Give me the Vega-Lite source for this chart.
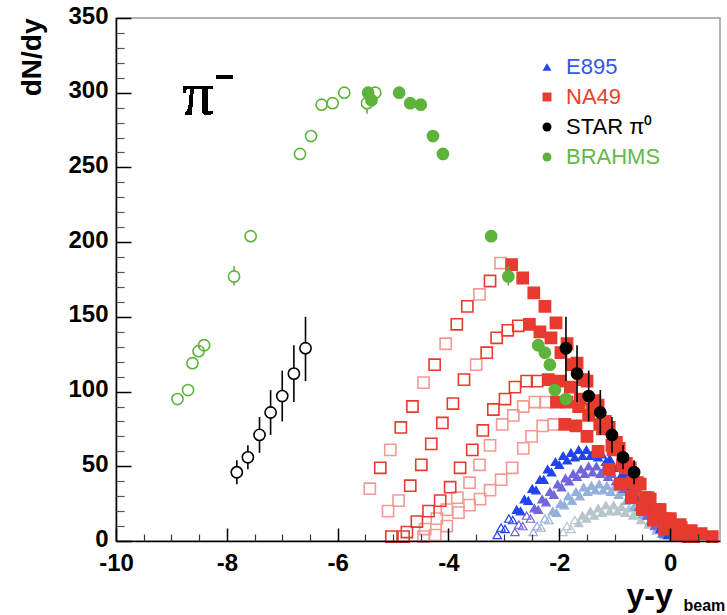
{
  "$schema": "https://vega.github.io/schema/vega-lite/v6.json",
  "width": 604,
  "height": 523,
  "autosize": {"type": "none"},
  "padding": {"left": 116, "top": 18, "right": 7, "bottom": 74},
  "background": "white",
  "config": {
    "view": {"stroke": "#9a9a9a", "strokeWidth": 1.5},
    "font": "Liberation Sans"
  },
  "datasets": {
    "pts": [
      {"set": "E895 set 4", "kind": "reflected", "x": -1.93, "y": 6},
      {"set": "E895 set 4", "kind": "reflected", "x": -1.86, "y": 10},
      {"set": "E895 set 4", "kind": "reflected", "x": -1.79, "y": 8},
      {"set": "E895 set 4", "kind": "reflected", "x": -1.72, "y": 14},
      {"set": "E895 set 4", "kind": "measured", "x": -1.65, "y": 12},
      {"set": "E895 set 4", "kind": "measured", "x": -1.58, "y": 17},
      {"set": "E895 set 4", "kind": "measured", "x": -1.51, "y": 15},
      {"set": "E895 set 4", "kind": "measured", "x": -1.44, "y": 20},
      {"set": "E895 set 4", "kind": "measured", "x": -1.37, "y": 17},
      {"set": "E895 set 4", "kind": "measured", "x": -1.30, "y": 22},
      {"set": "E895 set 4", "kind": "measured", "x": -1.23, "y": 19},
      {"set": "E895 set 4", "kind": "measured", "x": -1.16, "y": 24},
      {"set": "E895 set 4", "kind": "measured", "x": -1.09, "y": 20},
      {"set": "E895 set 4", "kind": "measured", "x": -1.02, "y": 24},
      {"set": "E895 set 4", "kind": "measured", "x": -0.95, "y": 20},
      {"set": "E895 set 4", "kind": "measured", "x": -0.88, "y": 23},
      {"set": "E895 set 4", "kind": "measured", "x": -0.81, "y": 19},
      {"set": "E895 set 4", "kind": "measured", "x": -0.74, "y": 22},
      {"set": "E895 set 4", "kind": "measured", "x": -0.67, "y": 17},
      {"set": "E895 set 4", "kind": "measured", "x": -0.60, "y": 20},
      {"set": "E895 set 4", "kind": "measured", "x": -0.53, "y": 14},
      {"set": "E895 set 4", "kind": "measured", "x": -0.46, "y": 17},
      {"set": "E895 set 4", "kind": "measured", "x": -0.39, "y": 11},
      {"set": "E895 set 4", "kind": "measured", "x": -0.32, "y": 13},
      {"set": "E895 set 4", "kind": "measured", "x": -0.25, "y": 7},
      {"set": "E895 set 4", "kind": "measured", "x": -0.18, "y": 9},
      {"set": "E895 set 4", "kind": "measured", "x": -0.11, "y": 4},

      {"set": "E895 set 3", "kind": "reflected", "x": -2.47, "y": 6},
      {"set": "E895 set 3", "kind": "reflected", "x": -2.40, "y": 10},
      {"set": "E895 set 3", "kind": "reflected", "x": -2.33, "y": 9},
      {"set": "E895 set 3", "kind": "reflected", "x": -2.26, "y": 15},
      {"set": "E895 set 3", "kind": "reflected", "x": -2.19, "y": 14},
      {"set": "E895 set 3", "kind": "measured", "x": -2.12, "y": 20},
      {"set": "E895 set 3", "kind": "measured", "x": -2.05, "y": 19},
      {"set": "E895 set 3", "kind": "measured", "x": -1.98, "y": 25},
      {"set": "E895 set 3", "kind": "measured", "x": -1.91, "y": 24},
      {"set": "E895 set 3", "kind": "measured", "x": -1.84, "y": 30},
      {"set": "E895 set 3", "kind": "measured", "x": -1.77, "y": 27},
      {"set": "E895 set 3", "kind": "measured", "x": -1.70, "y": 33},
      {"set": "E895 set 3", "kind": "measured", "x": -1.63, "y": 30},
      {"set": "E895 set 3", "kind": "measured", "x": -1.56, "y": 36},
      {"set": "E895 set 3", "kind": "measured", "x": -1.49, "y": 33},
      {"set": "E895 set 3", "kind": "measured", "x": -1.42, "y": 37},
      {"set": "E895 set 3", "kind": "measured", "x": -1.35, "y": 34},
      {"set": "E895 set 3", "kind": "measured", "x": -1.28, "y": 38},
      {"set": "E895 set 3", "kind": "measured", "x": -1.21, "y": 34},
      {"set": "E895 set 3", "kind": "measured", "x": -1.14, "y": 37},
      {"set": "E895 set 3", "kind": "measured", "x": -1.07, "y": 33},
      {"set": "E895 set 3", "kind": "measured", "x": -1.00, "y": 36},
      {"set": "E895 set 3", "kind": "measured", "x": -0.93, "y": 31},
      {"set": "E895 set 3", "kind": "measured", "x": -0.86, "y": 33},
      {"set": "E895 set 3", "kind": "measured", "x": -0.79, "y": 27},
      {"set": "E895 set 3", "kind": "measured", "x": -0.72, "y": 29},
      {"set": "E895 set 3", "kind": "measured", "x": -0.65, "y": 23},
      {"set": "E895 set 3", "kind": "measured", "x": -0.58, "y": 25},
      {"set": "E895 set 3", "kind": "measured", "x": -0.51, "y": 18},
      {"set": "E895 set 3", "kind": "measured", "x": -0.44, "y": 20},
      {"set": "E895 set 3", "kind": "measured", "x": -0.37, "y": 13},
      {"set": "E895 set 3", "kind": "measured", "x": -0.30, "y": 15},
      {"set": "E895 set 3", "kind": "measured", "x": -0.23, "y": 8},
      {"set": "E895 set 3", "kind": "measured", "x": -0.16, "y": 10},
      {"set": "E895 set 3", "kind": "measured", "x": -0.09, "y": 4},

      {"set": "E895 set 2", "kind": "reflected", "x": -2.80, "y": 6},
      {"set": "E895 set 2", "kind": "reflected", "x": -2.73, "y": 11},
      {"set": "E895 set 2", "kind": "reflected", "x": -2.66, "y": 10},
      {"set": "E895 set 2", "kind": "reflected", "x": -2.59, "y": 17},
      {"set": "E895 set 2", "kind": "reflected", "x": -2.52, "y": 15},
      {"set": "E895 set 2", "kind": "measured", "x": -2.45, "y": 22},
      {"set": "E895 set 2", "kind": "measured", "x": -2.38, "y": 21},
      {"set": "E895 set 2", "kind": "measured", "x": -2.31, "y": 28},
      {"set": "E895 set 2", "kind": "measured", "x": -2.24, "y": 26},
      {"set": "E895 set 2", "kind": "measured", "x": -2.17, "y": 33},
      {"set": "E895 set 2", "kind": "measured", "x": -2.10, "y": 31},
      {"set": "E895 set 2", "kind": "measured", "x": -2.03, "y": 38},
      {"set": "E895 set 2", "kind": "measured", "x": -1.96, "y": 36},
      {"set": "E895 set 2", "kind": "measured", "x": -1.89, "y": 42},
      {"set": "E895 set 2", "kind": "measured", "x": -1.82, "y": 40},
      {"set": "E895 set 2", "kind": "measured", "x": -1.75, "y": 45},
      {"set": "E895 set 2", "kind": "measured", "x": -1.68, "y": 43},
      {"set": "E895 set 2", "kind": "measured", "x": -1.61, "y": 48},
      {"set": "E895 set 2", "kind": "measured", "x": -1.54, "y": 45},
      {"set": "E895 set 2", "kind": "measured", "x": -1.47, "y": 50},
      {"set": "E895 set 2", "kind": "measured", "x": -1.40, "y": 46},
      {"set": "E895 set 2", "kind": "measured", "x": -1.33, "y": 50},
      {"set": "E895 set 2", "kind": "measured", "x": -1.26, "y": 45},
      {"set": "E895 set 2", "kind": "measured", "x": -1.19, "y": 48},
      {"set": "E895 set 2", "kind": "measured", "x": -1.12, "y": 43},
      {"set": "E895 set 2", "kind": "measured", "x": -1.05, "y": 45},
      {"set": "E895 set 2", "kind": "measured", "x": -0.98, "y": 40},
      {"set": "E895 set 2", "kind": "measured", "x": -0.91, "y": 42},
      {"set": "E895 set 2", "kind": "measured", "x": -0.84, "y": 35},
      {"set": "E895 set 2", "kind": "measured", "x": -0.77, "y": 36},
      {"set": "E895 set 2", "kind": "measured", "x": -0.70, "y": 29},
      {"set": "E895 set 2", "kind": "measured", "x": -0.63, "y": 30},
      {"set": "E895 set 2", "kind": "measured", "x": -0.56, "y": 23},
      {"set": "E895 set 2", "kind": "measured", "x": -0.49, "y": 24},
      {"set": "E895 set 2", "kind": "measured", "x": -0.42, "y": 17},
      {"set": "E895 set 2", "kind": "measured", "x": -0.35, "y": 18},
      {"set": "E895 set 2", "kind": "measured", "x": -0.28, "y": 10},
      {"set": "E895 set 2", "kind": "measured", "x": -0.21, "y": 11},
      {"set": "E895 set 2", "kind": "measured", "x": -0.14, "y": 5},

      {"set": "E895", "kind": "reflected", "x": -3.12, "y": 4},
      {"set": "E895", "kind": "reflected", "x": -3.05, "y": 9},
      {"set": "E895", "kind": "reflected", "x": -2.98, "y": 8},
      {"set": "E895", "kind": "reflected", "x": -2.91, "y": 15},
      {"set": "E895", "kind": "reflected", "x": -2.84, "y": 14},
      {"set": "E895", "kind": "measured", "x": -2.77, "y": 21},
      {"set": "E895", "kind": "measured", "x": -2.70, "y": 20},
      {"set": "E895", "kind": "measured", "x": -2.63, "y": 28},
      {"set": "E895", "kind": "measured", "x": -2.56, "y": 27},
      {"set": "E895", "kind": "measured", "x": -2.49, "y": 35},
      {"set": "E895", "kind": "measured", "x": -2.42, "y": 34},
      {"set": "E895", "kind": "measured", "x": -2.35, "y": 41},
      {"set": "E895", "kind": "measured", "x": -2.28, "y": 41},
      {"set": "E895", "kind": "measured", "x": -2.21, "y": 48},
      {"set": "E895", "kind": "measured", "x": -2.14, "y": 46},
      {"set": "E895", "kind": "measured", "x": -2.07, "y": 53},
      {"set": "E895", "kind": "measured", "x": -2.00, "y": 51},
      {"set": "E895", "kind": "measured", "x": -1.93, "y": 57},
      {"set": "E895", "kind": "measured", "x": -1.86, "y": 54},
      {"set": "E895", "kind": "measured", "x": -1.79, "y": 59},
      {"set": "E895", "kind": "measured", "x": -1.72, "y": 56},
      {"set": "E895", "kind": "measured", "x": -1.65, "y": 61},
      {"set": "E895", "kind": "measured", "x": -1.58, "y": 57},
      {"set": "E895", "kind": "measured", "x": -1.51, "y": 61},
      {"set": "E895", "kind": "measured", "x": -1.44, "y": 57},
      {"set": "E895", "kind": "measured", "x": -1.37, "y": 60},
      {"set": "E895", "kind": "measured", "x": -1.30, "y": 56},
      {"set": "E895", "kind": "measured", "x": -1.23, "y": 58},
      {"set": "E895", "kind": "measured", "x": -1.16, "y": 53},
      {"set": "E895", "kind": "measured", "x": -1.09, "y": 55},
      {"set": "E895", "kind": "measured", "x": -1.02, "y": 49},
      {"set": "E895", "kind": "measured", "x": -0.95, "y": 50},
      {"set": "E895", "kind": "measured", "x": -0.88, "y": 44},
      {"set": "E895", "kind": "measured", "x": -0.81, "y": 45},
      {"set": "E895", "kind": "measured", "x": -0.74, "y": 37},
      {"set": "E895", "kind": "measured", "x": -0.67, "y": 37},
      {"set": "E895", "kind": "measured", "x": -0.60, "y": 29},
      {"set": "E895", "kind": "measured", "x": -0.53, "y": 29},
      {"set": "E895", "kind": "measured", "x": -0.46, "y": 21},
      {"set": "E895", "kind": "measured", "x": -0.39, "y": 22},
      {"set": "E895", "kind": "measured", "x": -0.32, "y": 14},
      {"set": "E895", "kind": "measured", "x": -0.25, "y": 15},
      {"set": "E895", "kind": "measured", "x": -0.18, "y": 8},
      {"set": "E895", "kind": "measured", "x": -0.11, "y": 10},
      {"set": "E895", "kind": "measured", "x": -0.04, "y": 4},

      {"set": "NA49 set 2", "kind": "reflected", "x": -3.06, "y": 186},
      {"set": "NA49 set 2", "kind": "reflected", "x": -3.44, "y": 165},
      {"set": "NA49 set 2", "kind": "reflected", "x": -4.05, "y": 132},
      {"set": "NA49 set 2", "kind": "reflected", "x": -4.45, "y": 106},
      {"set": "NA49 set 2", "kind": "reflected", "x": -5.05, "y": 61},
      {"set": "NA49 set 2", "kind": "reflected", "x": -5.42, "y": 35},
      {"set": "NA49 set 2", "kind": "reflected", "x": -4.90, "y": 27},
      {"set": "NA49 set 2", "kind": "reflected", "x": -5.09, "y": 20},
      {"set": "NA49 set 2", "kind": "reflected", "x": -3.50, "y": 118},
      {"set": "NA49 set 2", "kind": "reflected", "x": -2.25, "y": 93},
      {"set": "NA49 set 2", "kind": "reflected", "x": -2.44, "y": 93},
      {"set": "NA49 set 2", "kind": "reflected", "x": -2.65, "y": 90},
      {"set": "NA49 set 2", "kind": "reflected", "x": -2.83, "y": 84},
      {"set": "NA49 set 2", "kind": "reflected", "x": -3.03, "y": 78},
      {"set": "NA49 set 2", "kind": "reflected", "x": -3.25, "y": 64},
      {"set": "NA49 set 2", "kind": "reflected", "x": -3.44, "y": 51},
      {"set": "NA49 set 2", "kind": "reflected", "x": -3.62, "y": 39},
      {"set": "NA49 set 2", "kind": "reflected", "x": -3.84, "y": 29},
      {"set": "NA49 set 2", "kind": "reflected", "x": -4.03, "y": 21},
      {"set": "NA49 set 2", "kind": "reflected", "x": -4.21, "y": 15},
      {"set": "NA49 set 2", "kind": "reflected", "x": -4.42, "y": 8},
      {"set": "NA49 set 2", "kind": "reflected", "x": -4.45, "y": 3},
      {"set": "NA49 set 2", "kind": "reflected", "x": -2.10, "y": 78},
      {"set": "NA49 set 2", "kind": "reflected", "x": -2.30, "y": 77},
      {"set": "NA49 set 2", "kind": "reflected", "x": -2.50, "y": 70},
      {"set": "NA49 set 2", "kind": "reflected", "x": -2.65, "y": 62},
      {"set": "NA49 set 2", "kind": "reflected", "x": -2.85, "y": 49},
      {"set": "NA49 set 2", "kind": "reflected", "x": -3.05, "y": 41},
      {"set": "NA49 set 2", "kind": "reflected", "x": -3.25, "y": 34},
      {"set": "NA49 set 2", "kind": "reflected", "x": -3.43, "y": 28},
      {"set": "NA49 set 2", "kind": "reflected", "x": -3.62, "y": 24},
      {"set": "NA49 set 2", "kind": "reflected", "x": -3.82, "y": 19},
      {"set": "NA49 set 2", "kind": "reflected", "x": -4.03, "y": 10},
      {"set": "NA49 set 2", "kind": "reflected", "x": -4.24, "y": 4},

      {"set": "NA49", "kind": "reflected", "x": -3.25, "y": 174},
      {"set": "NA49", "kind": "reflected", "x": -3.66, "y": 157},
      {"set": "NA49", "kind": "reflected", "x": -3.85, "y": 145},
      {"set": "NA49", "kind": "reflected", "x": -4.25, "y": 118},
      {"set": "NA49", "kind": "reflected", "x": -4.65, "y": 90},
      {"set": "NA49", "kind": "reflected", "x": -4.86, "y": 76},
      {"set": "NA49", "kind": "reflected", "x": -5.23, "y": 49},
      {"set": "NA49", "kind": "reflected", "x": -2.74, "y": 144},
      {"set": "NA49", "kind": "reflected", "x": -2.93, "y": 141},
      {"set": "NA49", "kind": "reflected", "x": -3.13, "y": 136},
      {"set": "NA49", "kind": "reflected", "x": -3.31, "y": 126},
      {"set": "NA49", "kind": "reflected", "x": -3.72, "y": 108},
      {"set": "NA49", "kind": "reflected", "x": -3.92, "y": 92},
      {"set": "NA49", "kind": "reflected", "x": -4.11, "y": 79},
      {"set": "NA49", "kind": "reflected", "x": -4.31, "y": 65},
      {"set": "NA49", "kind": "reflected", "x": -4.49, "y": 51},
      {"set": "NA49", "kind": "reflected", "x": -4.69, "y": 37},
      {"set": "NA49", "kind": "reflected", "x": -2.40, "y": 107},
      {"set": "NA49", "kind": "reflected", "x": -2.59, "y": 107},
      {"set": "NA49", "kind": "reflected", "x": -2.80, "y": 103},
      {"set": "NA49", "kind": "reflected", "x": -2.98, "y": 95},
      {"set": "NA49", "kind": "reflected", "x": -3.19, "y": 88},
      {"set": "NA49", "kind": "reflected", "x": -3.38, "y": 74},
      {"set": "NA49", "kind": "reflected", "x": -3.57, "y": 61},
      {"set": "NA49", "kind": "reflected", "x": -3.79, "y": 49},
      {"set": "NA49", "kind": "reflected", "x": -3.97, "y": 36},
      {"set": "NA49", "kind": "reflected", "x": -4.15, "y": 27},
      {"set": "NA49", "kind": "reflected", "x": -4.36, "y": 20},
      {"set": "NA49", "kind": "reflected", "x": -4.57, "y": 13},
      {"set": "NA49", "kind": "reflected", "x": -4.75, "y": 6},
      {"set": "NA49", "kind": "reflected", "x": -4.81, "y": 3},
      {"set": "NA49", "kind": "reflected", "x": -5.03, "y": 3},

      {"set": "NA49", "kind": "measured", "x": -1.90, "y": 78},
      {"set": "NA49", "kind": "measured", "x": -1.70, "y": 77},
      {"set": "NA49", "kind": "measured", "x": -1.50, "y": 70},
      {"set": "NA49", "kind": "measured", "x": -1.30, "y": 60},
      {"set": "NA49", "kind": "measured", "x": -1.10, "y": 48},
      {"set": "NA49", "kind": "measured", "x": -0.90, "y": 38},
      {"set": "NA49", "kind": "measured", "x": -0.70, "y": 29},
      {"set": "NA49", "kind": "measured", "x": -0.50, "y": 21},
      {"set": "NA49", "kind": "measured", "x": -0.30, "y": 14},
      {"set": "NA49", "kind": "measured", "x": -0.10, "y": 8},
      {"set": "NA49", "kind": "measured", "x": 0.10, "y": 4},
      {"set": "NA49", "kind": "measured", "x": -2.05, "y": 93},
      {"set": "NA49", "kind": "measured", "x": -1.86, "y": 93},
      {"set": "NA49", "kind": "measured", "x": -1.65, "y": 90},
      {"set": "NA49", "kind": "measured", "x": -1.47, "y": 84},
      {"set": "NA49", "kind": "measured", "x": -1.27, "y": 78},
      {"set": "NA49", "kind": "measured", "x": -1.05, "y": 64},
      {"set": "NA49", "kind": "measured", "x": -0.86, "y": 51},
      {"set": "NA49", "kind": "measured", "x": -0.68, "y": 39},
      {"set": "NA49", "kind": "measured", "x": -0.46, "y": 29},
      {"set": "NA49", "kind": "measured", "x": -0.27, "y": 21},
      {"set": "NA49", "kind": "measured", "x": -0.09, "y": 15},
      {"set": "NA49", "kind": "measured", "x": 0.12, "y": 8},
      {"set": "NA49", "kind": "measured", "x": 0.32, "y": 3},
      {"set": "NA49", "kind": "measured", "x": -2.20, "y": 108},
      {"set": "NA49", "kind": "measured", "x": -1.99, "y": 107},
      {"set": "NA49", "kind": "measured", "x": -1.80, "y": 103},
      {"set": "NA49", "kind": "measured", "x": -1.62, "y": 95},
      {"set": "NA49", "kind": "measured", "x": -1.41, "y": 88},
      {"set": "NA49", "kind": "measured", "x": -1.22, "y": 75},
      {"set": "NA49", "kind": "measured", "x": -1.03, "y": 61},
      {"set": "NA49", "kind": "measured", "x": -0.81, "y": 49},
      {"set": "NA49", "kind": "measured", "x": -0.63, "y": 36},
      {"set": "NA49", "kind": "measured", "x": -0.45, "y": 27},
      {"set": "NA49", "kind": "measured", "x": -0.24, "y": 20},
      {"set": "NA49", "kind": "measured", "x": -0.03, "y": 13},
      {"set": "NA49", "kind": "measured", "x": 0.15, "y": 6},
      {"set": "NA49", "kind": "measured", "x": 0.42, "y": 3},
      {"set": "NA49", "kind": "measured", "x": -2.54, "y": 145},
      {"set": "NA49", "kind": "measured", "x": -2.35, "y": 140},
      {"set": "NA49", "kind": "measured", "x": -2.15, "y": 136},
      {"set": "NA49", "kind": "measured", "x": -1.97, "y": 126},
      {"set": "NA49", "kind": "measured", "x": -1.78, "y": 118},
      {"set": "NA49", "kind": "measured", "x": -1.56, "y": 108},
      {"set": "NA49", "kind": "measured", "x": -1.36, "y": 94},
      {"set": "NA49", "kind": "measured", "x": -1.17, "y": 80},
      {"set": "NA49", "kind": "measured", "x": -0.97, "y": 66},
      {"set": "NA49", "kind": "measured", "x": -0.79, "y": 52},
      {"set": "NA49", "kind": "measured", "x": -0.59, "y": 39},
      {"set": "NA49", "kind": "measured", "x": -0.40, "y": 29},
      {"set": "NA49", "kind": "measured", "x": -0.20, "y": 21},
      {"set": "NA49", "kind": "measured", "x": 0.00, "y": 14},
      {"set": "NA49", "kind": "measured", "x": 0.20, "y": 9},
      {"set": "NA49", "kind": "measured", "x": -2.86, "y": 185},
      {"set": "NA49", "kind": "measured", "x": -2.66, "y": 176},
      {"set": "NA49", "kind": "measured", "x": -2.46, "y": 166},
      {"set": "NA49", "kind": "measured", "x": -2.26, "y": 157},
      {"set": "NA49", "kind": "measured", "x": -2.06, "y": 146},
      {"set": "NA49", "kind": "measured", "x": -1.86, "y": 132},
      {"set": "NA49", "kind": "measured", "x": -1.68, "y": 119},
      {"set": "NA49", "kind": "measured", "x": -1.50, "y": 107},
      {"set": "NA49", "kind": "measured", "x": -1.30, "y": 91},
      {"set": "NA49", "kind": "measured", "x": -1.10, "y": 76},
      {"set": "NA49", "kind": "measured", "x": -0.92, "y": 62},
      {"set": "NA49", "kind": "measured", "x": -0.72, "y": 49},
      {"set": "NA49", "kind": "measured", "x": -0.54, "y": 38},
      {"set": "NA49", "kind": "measured", "x": -0.36, "y": 28},
      {"set": "NA49", "kind": "measured", "x": -0.18, "y": 21},
      {"set": "NA49", "kind": "measured", "x": 0.00, "y": 15},
      {"set": "NA49", "kind": "measured", "x": 0.18, "y": 11},
      {"set": "NA49", "kind": "measured", "x": 0.38, "y": 7},
      {"set": "NA49", "kind": "measured", "x": 0.56, "y": 5},
      {"set": "NA49", "kind": "measured", "x": 0.76, "y": 3},

      {"set": "BRAHMS", "kind": "reflected", "x": -8.89, "y": 95},
      {"set": "BRAHMS", "kind": "reflected", "x": -8.70, "y": 101},
      {"set": "BRAHMS", "kind": "reflected", "x": -8.62, "y": 119},
      {"set": "BRAHMS", "kind": "reflected", "x": -8.51, "y": 127},
      {"set": "BRAHMS", "kind": "reflected", "x": -8.41, "y": 131},
      {"set": "BRAHMS", "kind": "reflected", "x": -7.87, "y": 177, "lo": 171, "hi": 184},
      {"set": "BRAHMS", "kind": "reflected", "x": -7.57, "y": 204},
      {"set": "BRAHMS", "kind": "reflected", "x": -6.68, "y": 259},
      {"set": "BRAHMS", "kind": "reflected", "x": -6.48, "y": 271},
      {"set": "BRAHMS", "kind": "reflected", "x": -6.29, "y": 292},
      {"set": "BRAHMS", "kind": "reflected", "x": -6.09, "y": 293},
      {"set": "BRAHMS", "kind": "reflected", "x": -5.88, "y": 300},
      {"set": "BRAHMS", "kind": "reflected", "x": -5.47, "y": 293, "lo": 286, "hi": 300},
      {"set": "BRAHMS", "kind": "reflected", "x": -5.32, "y": 300},
      {"set": "BRAHMS", "kind": "measured", "x": -5.45, "y": 300},
      {"set": "BRAHMS", "kind": "measured", "x": -5.39, "y": 295},
      {"set": "BRAHMS", "kind": "measured", "x": -4.89, "y": 300},
      {"set": "BRAHMS", "kind": "measured", "x": -4.69, "y": 293},
      {"set": "BRAHMS", "kind": "measured", "x": -4.50, "y": 292},
      {"set": "BRAHMS", "kind": "measured", "x": -4.28, "y": 271},
      {"set": "BRAHMS", "kind": "measured", "x": -4.10, "y": 259},
      {"set": "BRAHMS", "kind": "measured", "x": -3.23, "y": 204},
      {"set": "BRAHMS", "kind": "measured", "x": -2.92, "y": 177, "lo": 171, "hi": 184},
      {"set": "BRAHMS", "kind": "measured", "x": -2.38, "y": 131},
      {"set": "BRAHMS", "kind": "measured", "x": -2.26, "y": 126},
      {"set": "BRAHMS", "kind": "measured", "x": -2.17, "y": 118},
      {"set": "BRAHMS", "kind": "measured", "x": -2.08, "y": 101},
      {"set": "BRAHMS", "kind": "measured", "x": -1.88, "y": 95},

      {"set": "STAR π⁰", "kind": "reflected", "x": -6.58, "y": 129, "lo": 107, "hi": 150},
      {"set": "STAR π⁰", "kind": "reflected", "x": -6.79, "y": 112, "lo": 93, "hi": 131},
      {"set": "STAR π⁰", "kind": "reflected", "x": -7.00, "y": 97, "lo": 80, "hi": 114},
      {"set": "STAR π⁰", "kind": "reflected", "x": -7.21, "y": 86, "lo": 71, "hi": 101},
      {"set": "STAR π⁰", "kind": "reflected", "x": -7.41, "y": 71, "lo": 59, "hi": 83},
      {"set": "STAR π⁰", "kind": "reflected", "x": -7.62, "y": 56, "lo": 48, "hi": 64},
      {"set": "STAR π⁰", "kind": "reflected", "x": -7.82, "y": 46, "lo": 38, "hi": 54},
      {"set": "STAR π⁰", "kind": "measured", "x": -1.88, "y": 129, "lo": 107, "hi": 150},
      {"set": "STAR π⁰", "kind": "measured", "x": -1.68, "y": 112, "lo": 93, "hi": 131},
      {"set": "STAR π⁰", "kind": "measured", "x": -1.47, "y": 97, "lo": 80, "hi": 114},
      {"set": "STAR π⁰", "kind": "measured", "x": -1.26, "y": 86, "lo": 71, "hi": 101},
      {"set": "STAR π⁰", "kind": "measured", "x": -1.05, "y": 71, "lo": 59, "hi": 83},
      {"set": "STAR π⁰", "kind": "measured", "x": -0.85, "y": 56, "lo": 48, "hi": 64},
      {"set": "STAR π⁰", "kind": "measured", "x": -0.65, "y": 46, "lo": 38, "hi": 54}
    ]
  },
  "data": {"name": "pts"},
  "layer": [
    {
      "transform": [{"filter": "indexof(datum.set, 'E895') === 0"}],
      "mark": {"type": "point", "filled": true, "size": 72, "strokeWidth": 1.2, "opacity": 1},
      "encoding": {
        "x": {
          "field": "x", "type": "quantitative",
          "scale": {"domain": [-10, 0.9], "nice": false, "zero": false},
          "axis": {
            "orient": "bottom", "values": [-10, -8, -6, -4, -2, 0], "zindex": 1,
            "labelExpr": "'' + datum.value", "labelFlush": false,
            "grid": false, "tickSize": -13, "tickWidth": 1.5, "tickColor": "black",
            "domainColor": "black", "domainWidth": 1.5,
            "labelFont": "Liberation Sans", "labelFontWeight": "bold", "labelFontSize": 24,
            "labelColor": "black", "labelPadding": 23,
            "title": "y-y", "titleFont": "Liberation Sans", "titleFontWeight": "bold",
            "titleFontSize": 32, "titleColor": "black",
            "titleX": 510, "titleY": 64, "titleAlign": "left", "titleBaseline": "alphabetic"
          }
        },
        "y": {
          "field": "y", "type": "quantitative",
          "scale": {"domain": [0, 350], "nice": false, "zero": false},
          "axis": {
            "orient": "left", "values": [0, 50, 100, 150, 200, 250, 300, 350], "zindex": 1,
            "labelFlush": false, "labelOffset": -2,
            "grid": false, "tickSize": -15, "tickWidth": 1.5, "tickColor": "black",
            "domainColor": "black", "domainWidth": 1.5,
            "labelFont": "Liberation Sans", "labelFontWeight": "bold", "labelFontSize": 24,
            "labelColor": "black", "labelPadding": 23,
            "title": "dN/dy", "titleFont": "Liberation Sans", "titleFontWeight": "bold",
            "titleFontSize": 28, "titleColor": "black",
            "titleX": -76, "titleY": 0, "titleAngle": -90,
            "titleAlign": "right", "titleBaseline": "alphabetic"
          }
        },
        "color": {
          "field": "set", "type": "nominal",
          "scale": {
            "domain": ["E895", "E895 set 2", "E895 set 3", "E895 set 4", "NA49", "NA49 set 2", "STAR π⁰", "BRAHMS"],
            "range": ["#2244ee", "#7266dd", "#94b0dc", "#b8c6cc", "#e63b2e", "#f29a92", "#000000", "#5db33c"]
          },
          "legend": {
            "values": ["E895", "NA49", "STAR π⁰", "BRAHMS"],
            "orient": "none", "legendX": 420, "legendY": 38,
            "title": null, "labelFont": "Liberation Sans", "labelFontSize": 22,
            "labelColor": {"expr": "datum.label === 'E895' ? '#3456ee' : datum.label === 'NA49' ? '#e8412f' : datum.label === 'BRAHMS' ? '#63b846' : '#000000'"},
            "symbolSize": 80, "symbolStrokeWidth": 0, "symbolOpacity": 1, "rowPadding": 8, "labelOffset": 8
          }
        },
        "shape": {
          "field": "set", "type": "nominal",
          "scale": {
            "domain": ["E895", "E895 set 2", "E895 set 3", "E895 set 4", "NA49", "NA49 set 2", "STAR π⁰", "BRAHMS"],
            "range": ["triangle-up", "triangle-up", "triangle-up", "triangle-up", "square", "square", "circle", "circle"]
          },
          "legend": {
            "values": ["E895", "NA49", "STAR π⁰", "BRAHMS"],
            "orient": "none", "legendX": 420, "legendY": 38,
            "title": null, "labelFont": "Liberation Sans", "labelFontSize": 22,
            "labelColor": {"expr": "datum.label === 'E895' ? '#3456ee' : datum.label === 'NA49' ? '#e8412f' : datum.label === 'BRAHMS' ? '#63b846' : '#000000'"},
            "symbolSize": 80, "symbolStrokeWidth": 0, "symbolOpacity": 1, "rowPadding": 8, "labelOffset": 8
          }
        },
        "stroke": {
          "field": "set", "type": "nominal",
          "scale": {
            "domain": ["E895", "E895 set 2", "E895 set 3", "E895 set 4", "NA49", "NA49 set 2", "STAR π⁰", "BRAHMS"],
            "range": ["#2244ee", "#7266dd", "#94b0dc", "#b8c6cc", "#e63b2e", "#f29a92", "#000000", "#5db33c"]
          },
          "legend": null
        },
        "fillOpacity": {
          "field": "kind", "type": "nominal",
          "scale": {"domain": ["measured", "reflected"], "range": [1, 0]},
          "legend": null
        }
      }
    },
    {
      "transform": [{"filter": "indexof(datum.set, 'NA49') === 0"}],
      "mark": {"type": "point", "filled": true, "size": 125, "strokeWidth": 1.6, "opacity": 1},
      "encoding": {
        "x": {"field": "x", "type": "quantitative", "axis": null},
        "y": {"field": "y", "type": "quantitative", "axis": null},
        "color": {"field": "set", "type": "nominal"},
        "shape": {"field": "set", "type": "nominal"},
        "stroke": {"field": "set", "type": "nominal", "legend": null},
        "fillOpacity": {"field": "kind", "type": "nominal", "legend": null}
      }
    },
    {
      "transform": [{"filter": "isValid(datum.lo)"}],
      "mark": {"type": "rule", "strokeWidth": 1.6},
      "encoding": {
        "x": {
          "field": "x", "type": "quantitative",
          "axis": {
            "orient": "bottom", "zindex": 1,
            "values": [-9.5, -9, -8.5, -7.5, -7, -6.5, -5.5, -5, -4.5, -3.5, -3, -2.5, -1.5, -1, -0.5, 0.5],
            "grid": false, "labels": false, "domain": false, "title": null,
            "tickSize": -7, "tickWidth": 1.2, "tickColor": "#333333"
          }
        },
        "y": {
          "field": "lo", "type": "quantitative",
          "axis": {
            "orient": "left", "zindex": 1,
            "values": [10, 20, 30, 40, 60, 70, 80, 90, 110, 120, 130, 140, 160, 170, 180, 190, 210, 220, 230, 240, 260, 270, 280, 290, 310, 320, 330, 340],
            "grid": false, "labels": false, "domain": false, "title": null,
            "tickSize": -8, "tickWidth": 1.2, "tickColor": "#555555"
          }
        },
        "y2": {"field": "hi"},
        "stroke": {"field": "set", "type": "nominal", "legend": null}
      }
    },
    {
      "transform": [{"filter": "datum.kind === 'reflected' && (datum.set === 'BRAHMS' || datum.set === 'STAR π⁰')"}],
      "mark": {"type": "point", "filled": true, "shape": "circle", "size": 110, "color": "white", "opacity": 1},
      "encoding": {
        "x": {
          "field": "x", "type": "quantitative",
          "axis": {
            "orient": "bottom", "grid": false, "labels": false, "ticks": false, "domain": false,
            "values": [],
            "title": "beam", "titleFont": "Liberation Sans", "titleFontWeight": "bold",
            "titleFontSize": 16, "titleColor": "black",
            "titleX": 567, "titleY": 69, "titleAlign": "left", "titleBaseline": "alphabetic"
          }
        },
        "y": {"field": "y", "type": "quantitative", "axis": null}
      }
    },
    {
      "transform": [{"filter": "datum.set === 'BRAHMS' || datum.set === 'STAR π⁰'"}],
      "mark": {"type": "point", "filled": true, "size": 125, "strokeWidth": 1.6, "opacity": 1},
      "encoding": {
        "x": {"field": "x", "type": "quantitative", "axis": null},
        "y": {"field": "y", "type": "quantitative", "axis": null},
        "color": {"field": "set", "type": "nominal"},
        "shape": {"field": "set", "type": "nominal"},
        "stroke": {"field": "set", "type": "nominal", "legend": null},
        "fillOpacity": {"field": "kind", "type": "nominal", "legend": null}
      }
    },
    {
      "mark": {"type": "text", "font": "Liberation Serif", "fontSize": 62, "align": "left", "baseline": "alphabetic", "color": "black"},
      "encoding": {
        "x": {"datum": -8.8, "type": "quantitative", "axis": null},
        "y": {"datum": 286, "type": "quantitative", "axis": null},
        "text": {"value": "π⁻"}
      }
    }
  ],
  "resolve": {"axis": {"x": "independent", "y": "independent"}}
}
